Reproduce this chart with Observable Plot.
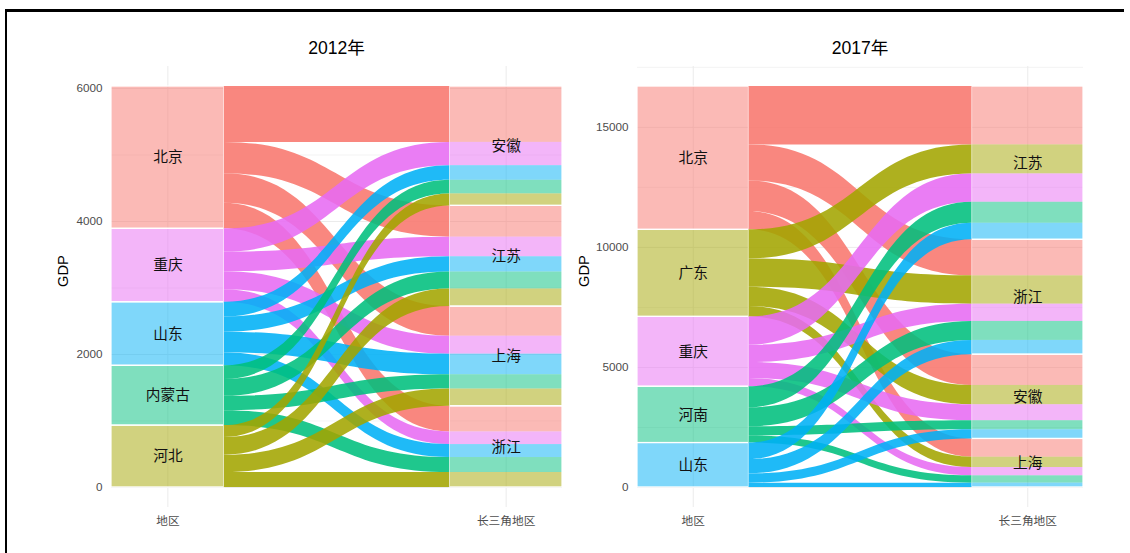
<!DOCTYPE html>
<html><head><meta charset="utf-8">
<script src="https://cdn.jsdelivr.net/npm/d3@7"></script>
<script src="https://cdn.jsdelivr.net/npm/@observablehq/plot@0.6"></script>
<style>
body{margin:0;background:#fff;font-family:"Liberation Sans",Arial,"Noto Sans CJK SC",sans-serif;width:1130px;height:553px;overflow:hidden;position:relative;}
#frame{position:absolute;left:5px;top:9px;width:1117px;height:600px;border-top:3px solid #000;border-left:2px solid #000;}
.title{position:absolute;top:38px;width:300px;font-size:17.6px;line-height:20px;color:#000;text-align:center;}
.panel{position:absolute;top:60px;}
</style></head><body>
<div id="frame"></div>
<div class="title" id="t1"></div>
<div class="title" id="t2"></div>
<div class="panel" id="p1"></div>
<div class="panel" id="p2"></div>
<script>
// ---------- data ----------
const axisNames = ["地区", "长三角地区"];
const yLabel = "GDP";

const title2012 = "2012年";
const regions2012 = ["北京", "重庆", "山东", "内蒙古", "河北"];
const colors2012 = ["#F8766D", "#E76BF3", "#00B0F6", "#00BF7D", "#A3A500"];
const targets2012 = ["安徽", "江苏", "上海", "浙江"];
// rows: regions2012, columns: targets2012
const gdp2012 = [
  [840, 470, 445, 385],
  [350, 295, 270, 190],
  [220, 230, 310, 195],
  [205, 255, 215, 225],
  [180, 265, 260, 225]
];
const ticks2012 = [0, 2000, 4000, 6000];
const minor2012 = [1000, 3000, 5000];

const title2017 = "2017年";
const regions2017 = ["北京", "广东", "重庆", "河南", "山东"];
const colors2017 = ["#F8766D", "#A3A500", "#E76BF3", "#00BF7D", "#00B0F6"];
const targets2017 = ["江苏", "浙江", "安徽", "上海"];
const gdp2017 = [
  [2430, 1500, 1280, 760],
  [1210, 1180, 805, 430],
  [1180, 720, 665, 345],
  [875, 790, 375, 305],
  [690, 595, 385, 180]
];
const ticks2017 = [0, 5000, 10000, 15000];
const minor2017 = [2500, 7500, 12500, 17500];

// ---------- layout helper ----------
const W = 1 / 3; // stratum width in axis units

function alluvial(regions, targets, values) {
  const T = d3.sum(values.flat());
  const rTot = values.map(r => d3.sum(r));
  const tTot = targets.map((_, j) => d3.sum(values, r => r[j]));
  const left = []; let top = T;
  regions.forEach((r, i) => { left.push({name: r, y2: top, y1: top - rTot[i]}); top -= rTot[i]; });
  const right = []; top = T;
  targets.forEach((t, j) => { right.push({name: t, y2: top, y1: top - tTot[j]}); top -= tTot[j]; });
  const lpos = regions.map((r, i) => { let t = left[i].y2; return targets.map((_, j) => { const p = {y2: t, y1: t - values[i][j]}; t -= values[i][j]; return p; }); });
  const rpos = targets.map((tg, j) => { let t = right[j].y2; return regions.map((_, i) => { const p = {y2: t, y1: t - values[i][j]}; t -= values[i][j]; return p; }); });
  const flows = [], lodes = [];
  regions.forEach((r, i) => targets.forEach((t, j) => {
    const id = r + "→" + t;
    flows.push({id, region: r, x: 1 + W / 2, y1: lpos[i][j].y1, y2: lpos[i][j].y2});
    flows.push({id, region: r, x: 2 - W / 2, y1: rpos[j][i].y1, y2: rpos[j][i].y2});
    lodes.push({region: r, y1: rpos[j][i].y1, y2: rpos[j][i].y2});
  }));
  return {T, left, right, flows, lodes};
}

function panel(regions, colors, targets, values, ticks, minor, opts) {
  const a = alluvial(regions, targets, values);
  const font = '"Liberation Sans", Arial, "Noto Sans CJK SC", sans-serif';
  return Plot.plot({
    width: opts.width, height: 480,
    marginLeft: opts.marginLeft, marginRight: 13, marginTop: 6, marginBottom: 33,
    x: {domain: [1 - W / 2, 2 + W / 2]},
    y: {domain: [-0.05 * a.T, 1.05 * a.T]},
    color: {domain: regions, range: colors},
    style: {fontFamily: font, fontSize: "11.7px", background: "transparent", overflow: "visible"},
    marks: [
      Plot.gridY(minor.filter(v => v < 1.05 * a.T), {stroke: "#EBEBEB", strokeOpacity: 1, strokeWidth: 0.6}),
      Plot.gridY(ticks, {stroke: "#EBEBEB", strokeOpacity: 1, strokeWidth: 1}),
      Plot.gridX([1, 2], {stroke: "#EBEBEB", strokeOpacity: 1, strokeWidth: 1}),
      Plot.rect(a.left, {x1: 1 - W / 2, x2: 1 + W / 2, y1: "y1", y2: "y2", fill: "name", fillOpacity: 0.5}),
      Plot.rect(a.lodes, {x1: 2 - W / 2, x2: 2 + W / 2, y1: "y1", y2: "y2", fill: "region", fillOpacity: 0.5}),
      Plot.rect(a.left, {x1: 1 - W / 2, x2: 1 + W / 2, y1: "y1", y2: "y2", fill: "none", stroke: "white", strokeWidth: 1.2}),
      Plot.rect(a.right, {x1: 2 - W / 2, x2: 2 + W / 2, y1: "y1", y2: "y2", fill: "none", stroke: "white", strokeWidth: 1.2}),
      Plot.area(a.flows, {x1: "x", y1: "y1", y2: "y2", z: "id", fill: "region", fillOpacity: 0.88, curve: "bump-x"}),
      Plot.text(a.left, {x: 1, y: d => (d.y1 + d.y2) / 2, text: "name", fontSize: 14.7, fill: "#111", fontFamily: '"Noto Sans CJK SC", sans-serif'}),
      Plot.text(a.right, {x: 2, y: d => (d.y1 + d.y2) / 2, text: "name", fontSize: 14.7, fill: "#111", fontFamily: '"Noto Sans CJK SC", sans-serif'}),
      Plot.axisY(ticks, {tickSize: 0, tickPadding: 9, label: null, tickFormat: d => String(d), color: "#4D4D4D", fontSize: 11.7}),
      Plot.axisX([1, 2], {tickSize: 0, tickPadding: 9, label: null, tickFormat: d => axisNames[d - 1], color: "#4D4D4D", fontSize: 11.7, fontFamily: '"Noto Sans CJK SC", sans-serif'}),
      Plot.text([yLabel], {frameAnchor: "left", rotate: -90, dx: opts.gdpDx, fontSize: 14.7, fill: "#000"})
    ]
  });
}

document.getElementById("t1").textContent = title2012;
document.getElementById("t2").textContent = title2017;
const t1 = document.getElementById("t1"); t1.style.left = (336.5 - 150) + "px";
const t2 = document.getElementById("t2"); t2.style.left = (860 - 150) + "px";

const p1 = document.getElementById("p1"); p1.style.left = "0px";
p1.appendChild(panel(regions2012, colors2012, targets2012, gdp2012, ticks2012, minor2012, {width: 575, marginLeft: 111, gdpDx: -48}));
const p2 = document.getElementById("p2"); p2.style.left = "570px";
p2.appendChild(panel(regions2017, colors2017, targets2017, gdp2017, ticks2017, minor2017, {width: 526, marginLeft: 67, gdpDx: -53}));
</script>
</body></html>
